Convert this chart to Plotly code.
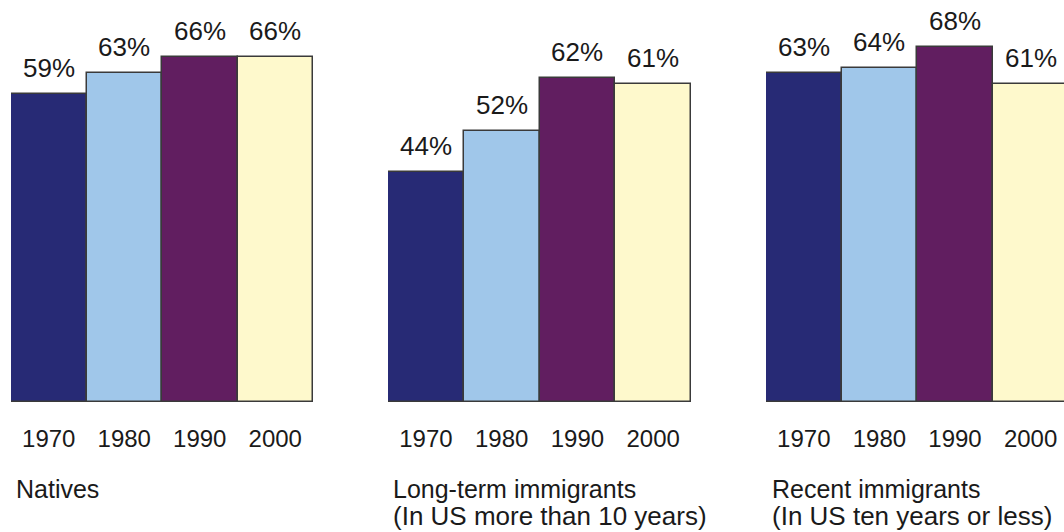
import plotly.graph_objects as go

years = ["1970", "1980", "1990", "2000"]
natives = [59, 63, 66, 66]
long_term = [44, 52, 62, 61]
recent = [63, 64, 68, 61]
group_titles = ["Natives", "Long-term immigrants", "Recent immigrants"]
group_subtitles = ["", "(In US more than 10 years)", "(In US ten years or less)"]
colors = ["#272a75", "#a0c7ea", "#611e60", "#fef9cc"]

W, H = 1064, 532
FONT = "Liberation Sans, Arial, sans-serif"

panels = [natives, long_term, recent]
domains = [[11 / W, 313 / W], [388 / W, 691 / W], [766 / W, 1.0]]
ranges = [[-0.5, 3.5], [-0.5, 3.5], [-0.5, -0.5 + (W - 766) / 75.6]]
title_x = [14, 391, 770]

fig = go.Figure()
annotations = []
for i, vals in enumerate(panels):
    sfx = "" if i == 0 else str(i + 1)
    fig.add_trace(go.Bar(
        x=years, y=vals, width=1,
        marker=dict(color=colors, line=dict(color="#3a3a3a", width=1.5)),
        xaxis="x" + sfx, yaxis="y" + sfx, showlegend=False, hoverinfo="skip",
    ))
    for j, v in enumerate(vals):
        annotations.append(dict(
            x=j, y=v, xref="x" + sfx, yref="y" + sfx, text=f"{v}%",
            showarrow=False, yanchor="middle", yshift=26,
            font=dict(family=FONT, size=26, color="#1a1a1a"),
        ))
    annotations.append(dict(
        x=title_x[i] / W, y=(H - 489) / H, xref="paper", yref="paper",
        text=group_titles[i], showarrow=False, xanchor="left", yanchor="middle",
        font=dict(family=FONT, size=25, color="#1a1a1a"),
    ))
    if group_subtitles[i]:
        annotations.append(dict(
            x=title_x[i] / W, y=(H - 516) / H, xref="paper", yref="paper",
            text=group_subtitles[i], showarrow=False, xanchor="left", yanchor="middle",
            font=dict(family=FONT, size=26, color="#1a1a1a"),
        ))
    fig.layout["xaxis" + sfx] = dict(
        domain=domains[i], type="category", range=ranges[i], anchor="y" + sfx,
        showline=False, showgrid=False, zeroline=False, ticks="",
        tickfont=dict(family=FONT, size=24, color="#1a1a1a"),
        ticklabelstandoff=20, fixedrange=True,
    )
    fig.layout["yaxis" + sfx] = dict(
        domain=[(H - 402) / H, 1.0], range=[0, 402 / 5.22], anchor="x" + sfx,
        visible=False, showgrid=False, zeroline=False, fixedrange=True,
    )

fig.update_layout(
    width=W, height=H, margin=dict(l=0, r=0, t=0, b=0),
    paper_bgcolor="white", plot_bgcolor="white",
    bargap=0, annotations=annotations,
)
fig.write_html("out.html")
